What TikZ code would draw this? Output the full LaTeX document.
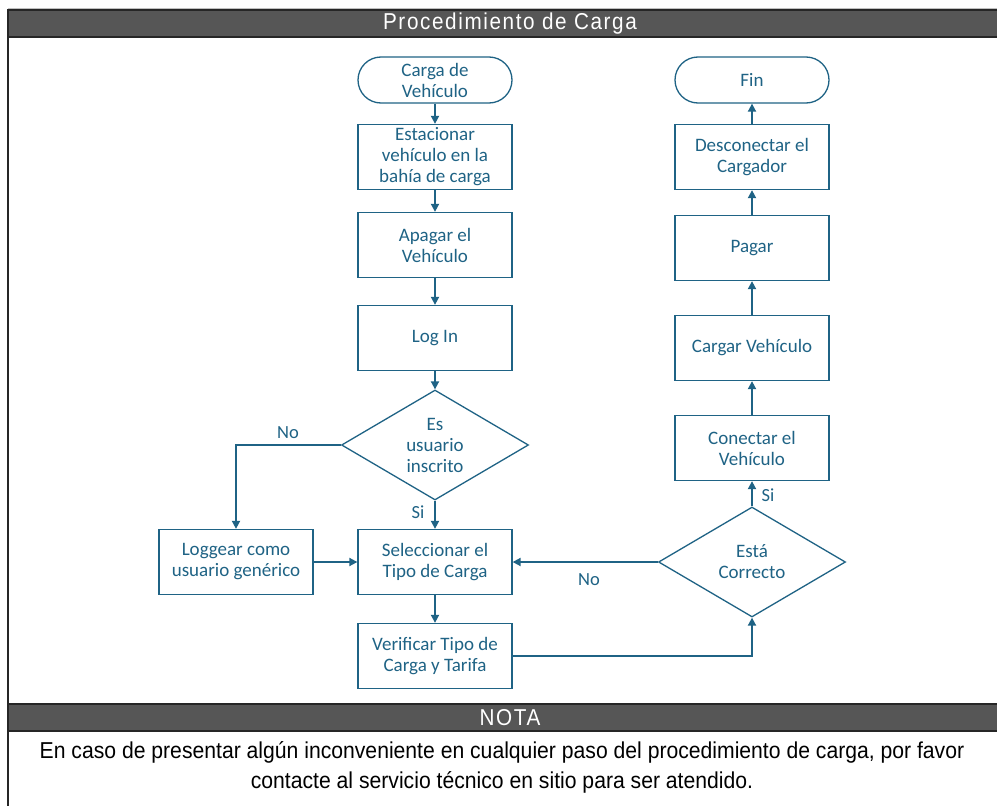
\documentclass[tikz,border=0pt]{standalone}
\usepackage{fontspec}
\setmainfont{Carlito}
\newfontfamily\barfont[FakeStretch=0.9,LetterSpace=7]{Liberation Sans}
\newfontfamily\notefont[FakeStretch=0.92]{Liberation Sans}
\usetikzlibrary{shapes.geometric,arrows.meta}
\definecolor{flow}{RGB}{31,99,133}
\definecolor{bar}{RGB}{86,86,86}
\begin{document}
\begin{tikzpicture}[x=1pt,y=-1pt,
  box/.style={draw=flow,line width=1.3pt,minimum width=154pt,minimum height=65pt,
    inner sep=2pt,text=flow,align=center,font=\fontsize{19}{21}\selectfont},
  term/.style={box,rounded corners=23pt,minimum height=46pt},
  decision/.style={diamond,aspect=1.7,draw=flow,line width=1.3pt,inner sep=0pt,
    minimum width=187pt,minimum height=110pt,text=flow,align=center,
    font=\fontsize{19}{21}\selectfont},
  arr/.style={draw=flow,line width=1.8pt,-{Triangle[length=8pt,width=8pt]}},
  lbl/.style={text=flow,font=\fontsize{18.5}{20}\selectfont,inner sep=0pt},
  bartext/.style={text=white,font=\barfont\fontsize{23}{24}\selectfont,inner sep=0pt},
  notetext/.style={text=black,font=\notefont\fontsize{23}{30}\selectfont,align=center,inner sep=0pt}
]
\useasboundingbox (0,0) rectangle (997,806);

% frame and title bars
\fill[white] (0,0) rectangle (997,806);
\draw[black!25,line width=1pt] (8,8) -- (997,8);
\draw[black!85,line width=1.2pt,fill=bar] (8,10) rectangle (999,37);
\draw[black!85,line width=1.2pt,fill=bar] (8,704) rectangle (999,731);
\draw[black!85,line width=1.2pt] (8,10) -- (8,806);
\node[bartext] (title) at (510,24) {Procedimiento de Carga};
\node[bartext] (notatitle) at (510,718) {NOTA};
\node[notetext] (note) at (502,767) {En caso de presentar algún inconveniente en cualquier paso del procedimiento de carga, por favor\\contacte al servicio técnico en sitio para ser atendido.};

% left column
\node[term] (start) at (435,80) {Carga de\\Vehículo};
\node[box] (park) at (435,157) {Estacionar\\vehículo en la\\bahía de carga};
\node[box] (off) at (435,245) {Apagar el\\Vehículo};
\node[box] (login) at (435,338) {Log In};
\node[decision] (isuser) at (435,445) {Es\\usuario\\inscrito};
\node[box] (generic) at (236,562) {Loggear como\\usuario genérico};
\node[box] (select) at (435,562) {Seleccionar el\\Tipo de Carga};
\node[box] (verify) at (435,656) {Verificar Tipo de\\Carga y Tarifa};

% right column
\node[decision] (ok) at (752,562) {Está\\Correcto};
\node[box] (connect) at (752,448) {Conectar el\\Vehículo};
\node[box] (charge) at (752,348) {Cargar Vehículo};
\node[box] (pay) at (752,248) {Pagar};
\node[box] (unplug) at (752,157) {Desconectar el\\Cargador};
\node[term] (finish) at (752,80) {Fin};

% connectors
\draw[arr] (start) -- (park);
\draw[arr] (park) -- (off);
\draw[arr] (off) -- (login);
\draw[arr] (login) -- (isuser);
\draw[arr] (isuser.west) -| (generic.north);
\draw[arr] (isuser.south) -- (select.north);
\draw[arr] (generic) -- (select);
\draw[arr] (select) -- (verify);
\draw[arr] (verify.east) -| (ok.south);
\draw[arr] (ok.west) -- (select.east);
\draw[arr] (ok.north) -- (connect.south);
\draw[arr] (connect) -- (charge);
\draw[arr] (charge) -- (pay);
\draw[arr] (pay) -- (unplug);
\draw[arr] (unplug) -- (finish);

% branch labels
\node[lbl] (noleft) at (288,433) {No};
\node[lbl] (sileft) at (418,512) {Si};
\node[lbl] (noright) at (589,580) {No};
\node[lbl] (siright) at (768,495) {Si};
\end{tikzpicture}
\end{document}
